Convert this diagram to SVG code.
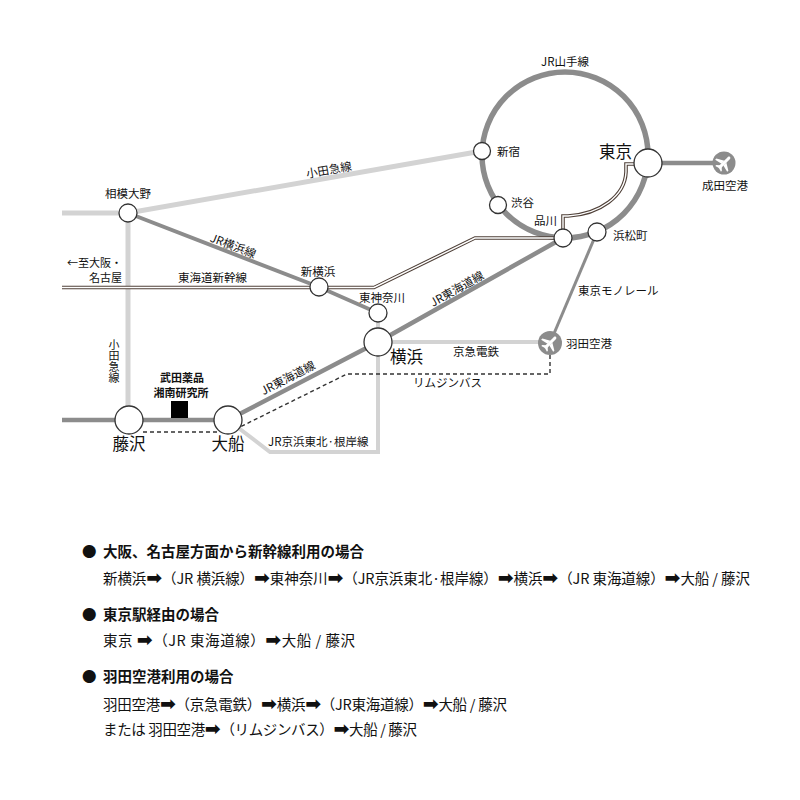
<svg xmlns="http://www.w3.org/2000/svg" width="800" height="800" viewBox="0 0 800 800">
<style>
text{font-family:"Noto Sans CJK JP","Noto Sans",sans-serif;fill:#111}
.lb{font-size:11.5px}
.sm{font-size:11px}
.big{font-size:16.5px}
.mid{text-anchor:middle}
.end{text-anchor:end}
.dk{fill:none;stroke:#8c8c8c}
.lt{fill:none;stroke:#d3d3d3}
.st{fill:#fff;stroke:#333;stroke-width:1.3}
.dash{fill:none;stroke:#333;stroke-width:1.4;stroke-dasharray:4 3}
.shk{fill:none;stroke:#4f4038;stroke-width:3.6;stroke-linejoin:miter}
.shw{fill:none;stroke:#fff;stroke-width:1.4;stroke-linejoin:miter}
.lg{font-size:14.5px}
.bd{font-weight:bold}
.ar{font-family:"DejaVu Sans",sans-serif;font-size:19px;font-weight:bold}
.vt{writing-mode:vertical-rl;font-size:11px}
</style>
<defs>
<g id="plane">
<path fill="#fff" d="M0,-8.5 C1.3,-8.5 1.5,-7 1.5,-6 L1.5,5.5 L0,7.5 L-1.5,5.5 L-1.5,-6 C-1.5,-7 -1.3,-8.5 0,-8.5Z"/>
<path fill="#fff" d="M-1.3,-2 L-8.5,2.3 L-8.5,4 L-1.3,2.2Z M1.3,-2 L8.5,2.3 L8.5,4 L1.3,2.2Z"/>
<path fill="#fff" d="M-1.2,4.5 L-4,7 L-4,8.3 L0,7.2 L4,8.3 L4,7 L1.2,4.5Z"/>
</g>
</defs>
<rect width="800" height="800" fill="#fff"/>

<g id="connectors">
<path class="lt" stroke-width="5" d="M62,213 H128 L482,151"/>
<path class="lt" stroke-width="5" d="M128,213 V420"/>
<path class="lt" stroke-width="4" d="M378,342 H550"/>
<path class="lt" stroke-width="4" d="M378,313 V452 H270 L228,420"/>
<circle class="dk" stroke-width="5.5" cx="565" cy="155" r="83"/>
<path class="dk" stroke-width="4.5" d="M648,163 H724"/>
<path class="dk" stroke-width="4.5" d="M563,238 L378,342 L228,420 H62"/>
<path class="dk" stroke-width="4" d="M128,213 L319,287 L378,313"/>
<path class="dk" stroke-width="3" d="M597,232 L550,343"/>
<path class="shk" d="M62,287.5 H374 L475,238 H560"/>
<path class="shk" d="M563,232 V216 H568 C600,214 625,196 626,172 V164 H640"/>
<path class="shw" d="M62,287.5 H374 L475,238 H560"/>
<path class="shw" d="M563,232 V216 H568 C600,214 625,196 626,172 V164 H640"/>
<path class="dash" d="M550,355 V374 H347 L240,427"/>
<path class="dash" d="M143,432 H217"/>
</g>

<g id="line-labels">
<text class="lb mid" x="565" y="66">JR山手線</text>
<text class="lb mid" transform="translate(329,170) rotate(-10)" y="4">小田急線</text>
<text class="lb mid" transform="translate(233,246) rotate(21)" y="4">JR横浜線</text>
<text class="lb" x="178" y="282">東海道新幹線</text>
<text class="sm end" x="122" y="267">←至大阪・</text>
<text class="sm end" x="122" y="281.5">名古屋</text>
<text class="lb mid" transform="translate(457,289) rotate(-29.3)" y="4">JR東海道線</text>
<text class="lb mid" transform="translate(288,378) rotate(-27.5)" y="4">JR東海道線</text>
<text class="lb mid" x="476" y="356">京急電鉄</text>
<text class="lb" x="578" y="295">東京モノレール</text>
<text class="lb" x="413" y="387">リムジンバス</text>
<text class="lb" x="268" y="446">JR京浜東北·根岸線</text>
<text class="vt" x="114" y="339">小田急線</text>
</g>

<g id="node-shinjuku"><circle class="st" cx="482" cy="151" r="8.5"/><text class="lb" x="497" y="156">新宿</text></g>
<g id="node-shibuya"><circle class="st" cx="498" cy="205" r="8.5"/><text class="lb" x="511" y="207">渋谷</text></g>
<g id="node-shinagawa"><circle class="st" cx="563" cy="238" r="9"/><text class="lb" x="534" y="225">品川</text></g>
<g id="node-hamamatsucho"><circle class="st" cx="597" cy="232" r="9"/><text class="lb" x="613" y="240">浜松町</text></g>
<g id="node-tokyo"><circle class="st" cx="648" cy="163" r="14"/><text class="big" x="599" y="158">東京</text></g>
<g id="node-narita"><circle fill="#8c8c8c" cx="724" cy="163" r="11.5"/><use href="#plane" transform="translate(724,163) rotate(45)"/><text class="lb mid" x="725" y="190">成田空港</text></g>
<g id="node-sagamiono"><circle class="st" cx="128" cy="213" r="9"/><text class="lb mid" x="128" y="198">相模大野</text></g>
<g id="node-shinyokohama"><circle class="st" cx="319" cy="287" r="9"/><text class="lb mid" x="318" y="276">新横浜</text></g>
<g id="node-higashikanagawa"><circle class="st" cx="378" cy="313" r="9"/><text class="lb mid" x="382" y="302">東神奈川</text></g>
<g id="node-yokohama"><circle class="st" cx="378" cy="342" r="14"/><text class="big" x="390" y="363">横浜</text></g>
<g id="node-haneda"><circle fill="#8c8c8c" cx="550" cy="343" r="12"/><use href="#plane" transform="translate(550,343) rotate(45)"/><text class="lb" x="566" y="348">羽田空港</text></g>
<g id="node-fujisawa"><circle class="st" cx="129" cy="420" r="14"/><text class="big mid" x="129" y="450">藤沢</text></g>
<g id="node-ofuna"><circle class="st" cx="228" cy="420" r="14"/><text class="big mid" x="228" y="450">大船</text></g>
<g id="node-takeda"><rect x="171" y="401" width="17" height="17" fill="#000"/><text class="sm mid bd" x="182" y="382">武田薬品</text><text class="sm mid bd" x="181" y="396.5">湘南研究所</text></g>

<g id="legend">
<text class="lg bd" x="82" y="557">●</text>
<text class="lg bd" x="103" y="557">大阪、名古屋方面から新幹線利用の場合</text>
<text class="lg" x="103" y="584" textLength="647" lengthAdjust="spacing">新横浜<tspan class="ar">➡</tspan>（JR 横浜線）<tspan class="ar">➡</tspan>東神奈川<tspan class="ar">➡</tspan>（JR京浜東北·根岸線）<tspan class="ar">➡</tspan>横浜<tspan class="ar">➡</tspan>（JR 東海道線）<tspan class="ar">➡</tspan>大船 / 藤沢</text>
<text class="lg bd" x="82" y="620">●</text>
<text class="lg bd" x="103" y="620">東京駅経由の場合</text>
<text class="lg" x="103" y="646" textLength="252" lengthAdjust="spacing">東京 <tspan class="ar">➡</tspan>（JR 東海道線）<tspan class="ar">➡</tspan>大船 / 藤沢</text>
<text class="lg bd" x="82" y="682">●</text>
<text class="lg bd" x="103" y="682">羽田空港利用の場合</text>
<text class="lg" x="103" y="710" textLength="404" lengthAdjust="spacing">羽田空港<tspan class="ar">➡</tspan>（京急電鉄）<tspan class="ar">➡</tspan>横浜<tspan class="ar">➡</tspan>（JR東海道線）<tspan class="ar">➡</tspan>大船 / 藤沢</text>
<text class="lg" x="103" y="735" textLength="314" lengthAdjust="spacing">または 羽田空港<tspan class="ar">➡</tspan>（リムジンバス）<tspan class="ar">➡</tspan>大船 / 藤沢</text>
</g>
</svg>
